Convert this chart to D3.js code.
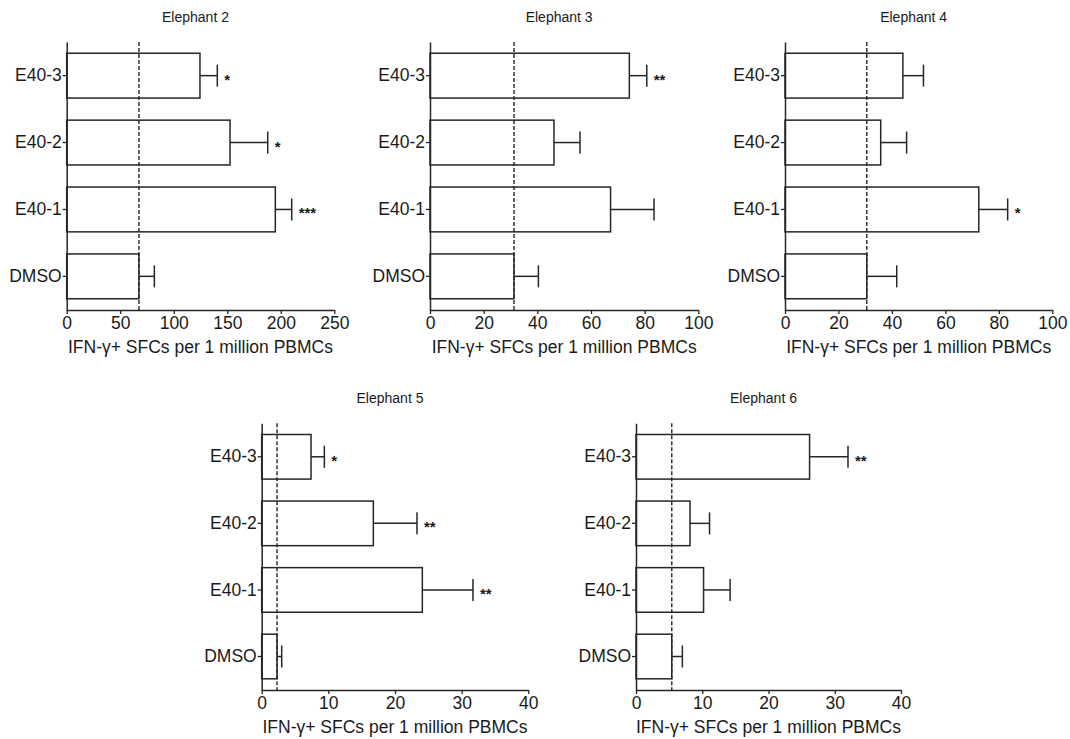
<!DOCTYPE html>
<html>
<head>
<meta charset="utf-8">
<script src="https://cdn.jsdelivr.net/npm/d3@7"></script>
<style>
  html, body { margin: 0; padding: 0; background: #fff; }
  svg { display: block; }
  text { font-family: "Liberation Sans", Arial, Helvetica, sans-serif; fill: #1a1a1a; }
</style>
</head>
<body>
<svg id="chart" width="1070" height="739"></svg>
<script>
// ---- data ----
const categories = ["E40-3", "E40-2", "E40-1", "DMSO"];
const titles = ["Elephant 2", "Elephant 3", "Elephant 4", "Elephant 5", "Elephant 6"];
const axisTitle = "IFN-\u03b3+ SFCs per 1 million PBMCs";

const e2Mean = [124.5, 152.6, 194.9, 67.5];
const e2Sem  = [16.2, 35.2, 15.3, 14.4];
const e2Sig  = ["*", "*", "***", ""];

const e3Mean = [74.3, 46.2, 67.3, 31.3];
const e3Sem  = [6.5, 9.7, 16.2, 9.1];
const e3Sig  = ["**", "", "", ""];

const e4Mean = [44.1, 35.8, 72.5, 30.6];
const e4Sem  = [7.7, 9.7, 10.8, 11.2];
const e4Sig  = ["", "", "*", ""];

const e5Mean = [7.4, 16.75, 24.1, 2.3];
const e5Sem  = [2.0, 6.55, 7.6, 0.7];
const e5Sig  = ["*", "**", "**", ""];

const e6Mean = [26.2, 8.15, 10.2, 5.4];
const e6Sem  = [5.8, 2.95, 4.0, 1.6];
const e6Sig  = ["**", "", "", ""];

const xMax   = [250, 100, 100, 40, 40];
const xTicks = [[0, 50, 100, 150, 200, 250], [0, 20, 40, 60, 80, 100], [0, 20, 40, 60, 80, 100], [0, 10, 20, 30, 40], [0, 10, 20, 30, 40]];

// ---- layout ----
const panels = [
  { title: titles[0], mean: e2Mean, sem: e2Sem, sig: e2Sig, xr: [66.7, 334.3], yr: [42, 310] },
  { title: titles[1], mean: e3Mean, sem: e3Sem, sig: e3Sig, xr: [430, 698.3], yr: [42, 310] },
  { title: titles[2], mean: e4Mean, sem: e4Sem, sig: e4Sig, xr: [785, 1052.3], yr: [42, 310] },
  { title: titles[3], mean: e5Mean, sem: e5Sem, sig: e5Sig, xr: [261.7, 528.3], yr: [423.3, 690] },
  { title: titles[4], mean: e6Mean, sem: e6Sem, sig: e6Sig, xr: [636, 901], yr: [423.3, 690] }
];

const ink = "#262626";
const svg = d3.select("#chart");

panels.forEach((p, i) => {
  const g = svg.append("g");
  const x = d3.scaleLinear().domain([0, xMax[i]]).range(p.xr);
  const y = d3.scaleBand().domain(categories).range(p.yr).paddingInner(0.33).paddingOuter(0.168);

  // bars
  g.selectAll("rect.bar").data(categories).join("rect")
    .attr("class", "bar")
    .attr("x", x(0))
    .attr("y", d => y(d))
    .attr("width", (d, k) => x(p.mean[k]) - x(0))
    .attr("height", y.bandwidth())
    .attr("fill", "#fff")
    .attr("stroke", ink)
    .attr("stroke-width", 1.5);

  // error bars
  g.selectAll("line.err").data(categories).join("line")
    .attr("class", "err")
    .attr("x1", (d, k) => x(p.mean[k]))
    .attr("x2", (d, k) => x(p.mean[k] + p.sem[k]))
    .attr("y1", d => y(d) + y.bandwidth() / 2)
    .attr("y2", d => y(d) + y.bandwidth() / 2)
    .attr("stroke", ink).attr("stroke-width", 1.5);
  g.selectAll("line.cap").data(categories).join("line")
    .attr("class", "cap")
    .attr("x1", (d, k) => x(p.mean[k] + p.sem[k]))
    .attr("x2", (d, k) => x(p.mean[k] + p.sem[k]))
    .attr("y1", d => y(d) + y.bandwidth() / 2 - 11)
    .attr("y2", d => y(d) + y.bandwidth() / 2 + 11)
    .attr("stroke", ink).attr("stroke-width", 1.5);

  // significance stars
  g.selectAll("text.sig").data(categories).join("text")
    .attr("class", "sig")
    .attr("x", (d, k) => x(p.mean[k] + p.sem[k]) + 7)
    .attr("y", d => y(d) + y.bandwidth() / 2 + 9)
    .attr("font-size", 15)
    .attr("font-weight", "bold")
    .text((d, k) => p.sig[k]);

  // dashed baseline (DMSO mean)
  const dm = p.mean[categories.indexOf("DMSO")];
  g.append("line")
    .attr("x1", x(dm)).attr("x2", x(dm))
    .attr("y1", p.yr[0]).attr("y2", p.yr[1])
    .attr("stroke", ink).attr("stroke-width", 1.4)
    .attr("stroke-dasharray", "4,2");

  // axes
  const xAxis = d3.axisBottom(x).tickValues(xTicks[i]).tickSizeInner(4).tickSizeOuter(0).tickPadding(3);
  const gx = g.append("g").attr("transform", `translate(0,${p.yr[1]})`).call(xAxis);
  const yAxis = d3.axisLeft(y).tickSizeInner(4).tickSizeOuter(0).tickPadding(1);
  const gy = g.append("g").attr("transform", `translate(${p.xr[0]},0)`).call(yAxis);
  [gx, gy].forEach(a => {
    a.select(".domain").attr("stroke", ink).attr("stroke-width", 1.5);
    a.selectAll(".tick line").attr("stroke", ink).attr("stroke-width", 1.3);
    a.selectAll(".tick text").attr("font-size", 17.5).attr("font-family", "Liberation Sans, Arial, sans-serif").attr("fill", "#1a1a1a");
  });

  // titles
  g.append("text")
    .attr("x", (p.xr[0] + p.xr[1]) / 2 - 5)
    .attr("y", p.yr[0] - 20.5)
    .attr("text-anchor", "middle")
    .attr("font-size", 14)
    .text(p.title);

  g.append("text")
    .attr("x", (p.xr[0] + p.xr[1]) / 2)
    .attr("y", p.yr[1] + 43)
    .attr("text-anchor", "middle")
    .attr("font-size", 17.5)
    .text(axisTitle);
});
</script>
</body>
</html>
